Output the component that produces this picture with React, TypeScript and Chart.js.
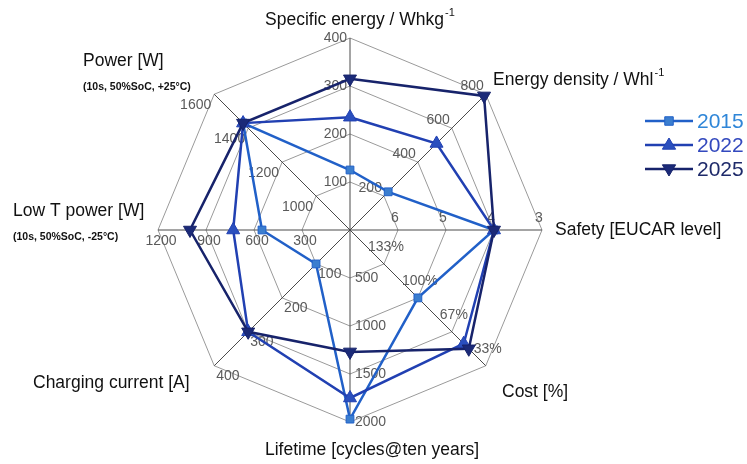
import React, { useEffect, useRef } from "react";
import { Chart, registerables } from "chart.js";

Chart.register(...registerables);

// ---------- DATA ----------
const axisNames = [
  "Specific energy",
  "Energy density",
  "Safety",
  "Cost",
  "Lifetime",
  "Charging current",
  "Low T power",
  "Power",
];
// value at the centre and at the outer ring for every axis
const axisCenterValue = [0, 0, 7, 166.67, 0, 0, 0, 800];
const axisOuterValue = [400, 800, 3, 33.33, 2000, 400, 1200, 1600];
// tick labels on every axis (rings 1..4)
const specificEnergyTicks = ["100", "200", "300", "400"];
const energyDensityTicks = ["200", "400", "600", "800"];
const safetyTicks = ["6", "5", "4", "3"];
const costTicks = ["133%", "100%", "67%", "33%"];
const lifetimeTicks = ["500", "1000", "1500", "2000"];
const chargingTicks = ["100", "200", "300", "400"];
const lowTPowerTicks = ["300", "600", "900", "1200"];
const powerTicks = ["1000", "1200", "1400", "1600"];

const seriesLabels = ["2015", "2022", "2025"];
const values2015 = [125, 225, 4, 100, 1970, 100, 550, 1430];
const values2022 = [235, 510, 4, 55, 1750, 300, 730, 1430];
const values2025 = [315, 790, 4, 50, 1270, 300, 1000, 1430];

// ---------- STYLE ----------
const FONT = "'Liberation Sans', Arial, sans-serif";
const lineColors = ["#2160C8", "#2140B2", "#17236B"];
const markerFill = ["#3B7ECF", "#2A4FBE", "#1B2A78"];
const legendTextColors = ["#2F86D8", "#3349BE", "#1E2A6A"];
const markerStyles = ["rect", "triangle", "triangle"];
const markerRotation = [0, 0, 180];
const markerRadius = [5.5, 7.5, 7.5];
const drawOrder = [3, 2, 1];

// tick label placement per axis: [align, dx, dy]
const tickPlacement: [CanvasTextAlign, number, number][] = [
  ["right", -3, 0],
  ["right", -2, -8],
  ["center", -3, -12],
  ["center", 2, -17],
  ["left", 5, 0],
  ["left", 2, 10],
  ["center", 3, 11],
  ["right", -3, 11],
];

const norm = (vals: number[]) =>
  vals.map((v, i) => (v - axisCenterValue[i]) / (axisOuterValue[i] - axisCenterValue[i]));

const allTicks = [
  specificEnergyTicks,
  energyDensityTicks,
  safetyTicks,
  costTicks,
  lifetimeTicks,
  chargingTicks,
  lowTPowerTicks,
  powerTicks,
];

function drawMarker(ctx: CanvasRenderingContext2D, kind: number, x: number, y: number, r: number) {
  ctx.beginPath();
  if (kind === 0) {
    ctx.rect(x - r * 0.85, y - r * 0.85, r * 1.7, r * 1.7);
  } else if (kind === 1) {
    ctx.moveTo(x, y - r);
    ctx.lineTo(x + r * 0.95, y + r * 0.6);
    ctx.lineTo(x - r * 0.95, y + r * 0.6);
    ctx.closePath();
  } else {
    ctx.moveTo(x, y + r);
    ctx.lineTo(x + r * 0.95, y - r * 0.6);
    ctx.lineTo(x - r * 0.95, y - r * 0.6);
    ctx.closePath();
  }
  ctx.fill();
  ctx.stroke();
}

function drawTitle(
  ctx: CanvasRenderingContext2D,
  text: string,
  x: number,
  y: number,
  sup?: string,
  sub?: string
) {
  ctx.fillStyle = "#111";
  ctx.textAlign = "left";
  ctx.textBaseline = "middle";
  ctx.font = `17.5px ${FONT}`;
  ctx.fillText(text, x, y);
  const w = ctx.measureText(text).width;
  if (sup) {
    ctx.font = `11px ${FONT}`;
    ctx.fillText(sup, x + w + 1, y - 7);
  }
  if (sub) {
    ctx.font = `bold 10.5px ${FONT}`;
    ctx.fillText(sub, x, y + 26);
  }
}

const overlayPlugin = {
  id: "overlay",
  beforeDatasetsDraw(chart: any) {
    const ctx: CanvasRenderingContext2D = chart.ctx;
    const scale = chart.scales.r;
    ctx.save();
    ctx.font = `14px ${FONT}`;
    ctx.fillStyle = "#5a5a5a";
    ctx.textBaseline = "middle";
    allTicks.forEach((ticks, i) => {
      const [align, dx, dy] = tickPlacement[i];
      ctx.textAlign = align;
      ticks.forEach((t, k) => {
        const p = scale.getPointPosition(i, scale.getDistanceFromCenterForValue((k + 1) / 4));
        ctx.fillText(t, p.x + dx, p.y + dy);
      });
    });
    ctx.restore();
  },
  afterDraw(chart: any) {
    const ctx: CanvasRenderingContext2D = chart.ctx;
    ctx.save();
    drawTitle(ctx, "Specific energy / Whkg", 265, 20, "-1");
    drawTitle(ctx, "Energy density / Whl", 493, 80, "-1");
    drawTitle(ctx, "Safety [EUCAR level]", 555, 230);
    drawTitle(ctx, "Cost [%]", 502, 392);
    drawTitle(ctx, "Lifetime [cycles@ten years]", 265, 450);
    drawTitle(ctx, "Charging current [A]", 33, 383);
    drawTitle(ctx, "Low T power [W]", 13, 211, undefined, "(10s, 50%SoC, -25°C)");
    drawTitle(ctx, "Power [W]", 83, 61, undefined, "(10s, 50%SoC, +25°C)");

    // legend
    const rows = [121, 145, 169];
    seriesLabels.forEach((lab, i) => {
      const y = rows[i];
      ctx.strokeStyle = lineColors[i];
      ctx.lineWidth = 2.5;
      ctx.beginPath();
      ctx.moveTo(645, y);
      ctx.lineTo(693, y);
      ctx.stroke();
      ctx.fillStyle = markerFill[i];
      ctx.lineWidth = 1;
      drawMarker(ctx, i, 669, y, markerRadius[i] - 0.5);
      ctx.fillStyle = legendTextColors[i];
      ctx.font = `21px ${FONT}`;
      ctx.textAlign = "left";
      ctx.textBaseline = "middle";
      ctx.fillText(lab, 697, y + 1);
    });
    ctx.restore();
  },
};

export default function App() {
  const ref = useRef<HTMLCanvasElement>(null);
  useEffect(() => {
    if (!ref.current) return;
    const series = [values2015, values2022, values2025];
    const chart = new Chart(ref.current, {
      type: "radar",
      data: {
        labels: axisNames,
        datasets: series.map((vals, i) => ({
          label: seriesLabels[i],
          data: norm(vals),
          order: drawOrder[i],
          borderColor: lineColors[i],
          backgroundColor: "transparent",
          fill: false,
          borderWidth: 2.5,
          pointStyle: markerStyles[i] as any,
          pointRotation: markerRotation[i],
          pointRadius: markerRadius[i],
          pointBackgroundColor: markerFill[i],
          pointBorderColor: lineColors[i],
          pointBorderWidth: 1,
        })),
      },
      options: {
        responsive: false,
        animation: false,
        layout: { padding: { left: 158, right: 205, top: 38, bottom: 42 } },
        plugins: { legend: { display: false }, tooltip: { enabled: false } },
        elements: { line: { tension: 0 } },
        scales: {
          r: {
            min: 0,
            max: 1,
            ticks: { display: false, stepSize: 0.25 },
            pointLabels: { display: false },
            grid: { color: "#9a9a9a", lineWidth: 1 },
            angleLines: { color: "#4a4a4a", lineWidth: 1 },
          },
        },
      },
      plugins: [overlayPlugin],
    });
    return () => chart.destroy();
  }, []);
  return (
    <div style={{ position: "absolute", left: 0, top: 0, width: 747, height: 464, background: "#fff" }}>
      <canvas ref={ref} width={747} height={464} style={{ display: "block" }} />
    </div>
  );
}
